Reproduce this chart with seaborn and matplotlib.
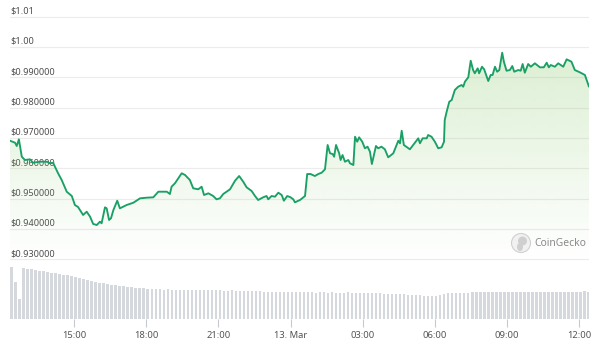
import numpy as np
import pandas as pd
import matplotlib
matplotlib.use("Agg")
import matplotlib.pyplot as plt
import matplotlib.transforms as mtransforms
from matplotlib.patches import Ellipse
import seaborn as sns

# ---------------- data ----------------
# hours since 12:20 (12 Mar)
price_hours = [0.00, 0.21, 0.28, 0.37, 0.49, 0.62, 0.83, 0.96, 1.25, 1.53, 1.66, 1.79, 2.00, 2.15, 2.36,
               2.57, 2.70, 2.83, 3.04, 3.19, 3.33, 3.46, 3.61, 3.74, 3.81, 3.95, 4.02, 4.12, 4.20, 4.30,
               4.46, 4.57, 4.85, 5.13, 5.41, 5.68, 5.96, 6.17, 6.52, 6.65, 6.72, 6.86, 7.14, 7.28, 7.48,
               7.62, 7.83, 7.97, 8.07, 8.25, 8.45, 8.59, 8.73, 8.87, 9.15, 9.36, 9.53, 9.70, 9.84, 10.05,
               10.19, 10.32, 10.53, 10.67, 10.74, 10.88, 11.02, 11.16, 11.30, 11.39, 11.53, 11.67, 11.78, 11.85, 12.06,
               12.27, 12.36, 12.50, 12.68, 12.82, 12.96, 13.10, 13.21, 13.31, 13.42, 13.48, 13.56, 13.69, 13.75, 13.83,
               13.93, 14.07, 14.14, 14.28, 14.35, 14.44, 14.52, 14.65, 14.76, 14.87, 14.97, 15.05, 15.22, 15.31, 15.45,
               15.59, 15.73, 15.94, 16.08, 16.15, 16.22, 16.29, 16.38, 16.63, 16.84, 16.98, 17.05, 17.16, 17.33, 17.39,
               17.53, 17.67, 17.81, 17.95, 18.05, 18.08, 18.16, 18.27, 18.37, 18.50, 18.64, 18.78, 18.85, 18.92, 19.06,
               19.16, 19.26, 19.33, 19.45, 19.51, 19.63, 19.72, 19.89, 19.99, 20.07, 20.17, 20.26, 20.35, 20.47, 20.54,
               20.65, 20.79, 20.89, 20.97, 21.14, 21.24, 21.32, 21.41, 21.55, 21.66, 21.83, 22.04, 22.20, 22.32, 22.41,
               22.49, 22.66, 22.80, 23.01, 23.15, 23.35, 23.49, 23.70, 23.91, 24.08]
price_usd = [0.96910, 0.96844, 0.96736, 0.96956, 0.96383, 0.96274, 0.96297, 0.96185, 0.96218, 0.96218, 0.96165, 0.96185, 0.95836, 0.95615, 0.95229,
             0.95087, 0.94790, 0.94724, 0.94461, 0.94569, 0.94405, 0.94164, 0.94131, 0.94240, 0.94187, 0.94714, 0.94681, 0.94296, 0.94352, 0.94625,
             0.94932, 0.94681, 0.94790, 0.94866, 0.95011, 0.95031, 0.95044, 0.95229, 0.95229, 0.95153, 0.95394, 0.95506, 0.95836, 0.95780, 0.95615,
             0.95341, 0.95308, 0.95394, 0.95120, 0.95176, 0.95087, 0.94978, 0.95011, 0.95153, 0.95308, 0.95592, 0.95746, 0.95558, 0.95374, 0.95252,
             0.95087, 0.94955, 0.95044, 0.95087, 0.94978, 0.95087, 0.95064, 0.95196, 0.95120, 0.94932, 0.95087, 0.95044, 0.94978, 0.94879, 0.94955,
             0.95087, 0.95812, 0.95812, 0.95746, 0.95812, 0.95855, 0.95967, 0.96769, 0.96495, 0.96472, 0.96383, 0.96769, 0.96495, 0.96274, 0.96439,
             0.96218, 0.96274, 0.96165, 0.96109, 0.97042, 0.96877, 0.97022, 0.96877, 0.96660, 0.96713, 0.96548, 0.96142, 0.96736, 0.96660, 0.96713,
             0.96627, 0.96363, 0.96495, 0.96769, 0.96910, 0.96825, 0.97240, 0.96769, 0.96627, 0.96844, 0.96989, 0.96825, 0.96989, 0.96989, 0.97098,
             0.97042, 0.96877, 0.96660, 0.96693, 0.96877, 0.97593, 0.97866, 0.98196, 0.98252, 0.98582, 0.98691, 0.98747, 0.98691, 0.98856, 0.99001,
             0.99548, 0.99241, 0.99133, 0.99297, 0.99133, 0.99350, 0.99264, 0.98879, 0.99077, 0.99077, 0.99350, 0.99185, 0.99241, 0.99812, 0.99515,
             0.99218, 0.99241, 0.99373, 0.99185, 0.99241, 0.99218, 0.99439, 0.99152, 0.99439, 0.99350, 0.99462, 0.99330, 0.99330, 0.99482, 0.99330,
             0.99406, 0.99350, 0.99462, 0.99350, 0.99594, 0.99515, 0.99241, 0.99165, 0.99077, 0.98691]

# volume, one bar per 10 minutes (relative units)
volume = [52, 37, 20, 51, 50, 50, 49, 48, 48, 47,
          46, 46, 45, 44, 44, 43, 42, 41, 40, 39,
          38, 37, 36, 36, 35, 34, 34, 33, 33, 32,
          32, 31, 31, 31, 30, 30, 30, 30, 29, 30,
          29, 29, 29, 29, 29, 29, 29, 29, 29, 29,
          29, 29, 29, 28, 28, 29, 28, 28, 28, 28,
          28, 28, 28, 27, 27, 27, 27, 27, 27, 27,
          27, 27, 27, 27, 27, 27, 26, 27, 27, 26,
          27, 26, 26, 26, 27, 26, 26, 26, 26, 26,
          26, 26, 26, 25, 25, 25, 25, 25, 25, 24,
          24, 24, 24, 23, 23, 23, 23, 24, 25, 26,
          26, 26, 26, 26, 26, 27, 27, 27, 27, 27,
          27, 27, 27, 27, 27, 27, 27, 27, 27, 27,
          27, 27, 27, 27, 27, 27, 27, 27, 27, 27,
          27, 27, 27, 28, 27]

y_ticks = [1.01, 1.00, 0.99, 0.98, 0.97, 0.96, 0.95, 0.94, 0.93]
y_labels = ["$1.01", "$1.00", "$0.990000", "$0.980000", "$0.970000",
            "$0.960000", "$0.950000", "$0.940000", "$0.930000"]
x_ticks = [2.6667, 5.6667, 8.6667, 11.6667, 14.6667, 17.6667, 20.6667, 23.6667]
x_labels = ["15:00", "18:00", "21:00", "13. Mar", "03:00", "06:00", "09:00", "12:00"]

# ---------------- style ----------------
sns.set_theme(style="white")
plt.rcParams['font.family'] = ['Noto Sans', 'DejaVu Sans']

W, H = 600, 345
fig = plt.figure(figsize=(6, 3.45), dpi=100)
fig.patch.set_facecolor("white")

LINE = "#1aa065"
XMAX = 24.08

# price axes: pixel rows 5..262
ax = fig.add_axes([10 / W, (H - 262) / H, 579 / W, 257 / H])
ymin, ymax = 0.92911, 1.01385
ax.set_xlim(0, XMAX)
ax.set_ylim(ymin, ymax)
for s in ax.spines.values():
    s.set_visible(False)
ax.set_xticks([])
ax.set_yticks([])
ax.patch.set_alpha(0)

# grid lines + labels
trans = mtransforms.blended_transform_factory(ax.transAxes, ax.transData)
for v, lab in zip(y_ticks, y_labels):
    ax.axhline(v, color="#ececec", lw=0.8, zorder=0, xmax=1.002)
    ax.text(0.0, v + 0.0004, lab, transform=trans, ha="left", va="bottom",
            fontsize=6.6, color="#4d4d4d", zorder=1)

df = pd.DataFrame({"hours": price_hours, "price": price_usd})

# gradient fill under the line
fill = ax.fill_between(df["hours"], df["price"], ymin, color="none", lw=0)
grad = np.zeros((256, 1, 4))
base = np.array([0.56, 0.80, 0.45])
alpha = np.linspace(0.0, 0.38, 256)
grad[:, 0, :3] = base
grad[:, 0, 3] = alpha
img = ax.imshow(grad, extent=[0, XMAX, ymin + 0.0005, ymax], origin="lower",
                aspect="auto", zorder=1, interpolation="bilinear")
img.set_clip_path(fill.get_paths()[0], transform=ax.transData)

sns.lineplot(data=df, x="hours", y="price", ax=ax, color=LINE, lw=1.35, zorder=3)
ax.set_xlabel("")
ax.set_ylabel("")
ax.set_xlim(0, XMAX)
ax.set_ylim(ymin, ymax)

# CoinGecko watermark
fig.patches.append(Ellipse((521 / W, (H - 243) / H), 19 / W, 19 / H, transform=fig.transFigure,
                           facecolor="#f1f1f1", edgecolor="#d0d0d0", lw=0.8))
fig.patches.append(Ellipse((522.5 / W, (H - 241) / H), 9 / W, 9 / H, transform=fig.transFigure,
                           facecolor="#cfcfcf", edgecolor="none"))
fig.patches.append(Ellipse((520 / W, (H - 247) / H), 6 / W, 8 / H, transform=fig.transFigure,
                           facecolor="#cfcfcf", edgecolor="none"))
fig.text(534 / W, (H - 243) / H, "CoinGecko", fontsize=7.4, color="#8a8a8a",
         ha="left", va="center")

# volume axes: pixel rows 262..319
axv = fig.add_axes([10 / W, (H - 319) / H, 579 / W, 57 / H])
vt = np.arange(len(volume)) * 10 / 60 + 0.06
vdf = pd.DataFrame({"t": vt, "vol": volume})
sns.barplot(data=vdf, x="t", y="vol", ax=axv, native_scale=True, width=0.6,
            color="#d5d8dd", saturation=1, linewidth=0, errorbar=None)
axv.set_xlim(0, XMAX)
axv.set_ylim(0, 57)
for s in axv.spines.values():
    s.set_visible(False)
axv.set_yticks([])
axv.set_ylabel("")
axv.set_xlabel("")
axv.patch.set_alpha(0)
axv.set_xticks(x_ticks)
axv.set_xticklabels(x_labels)
axv.tick_params(axis="x", length=6, width=0.8, color="#c5cad1", pad=3,
                labelsize=6.8, labelcolor="#555555", direction="out", bottom=True)

fig.savefig("out.png", dpi=100, facecolor="white")
